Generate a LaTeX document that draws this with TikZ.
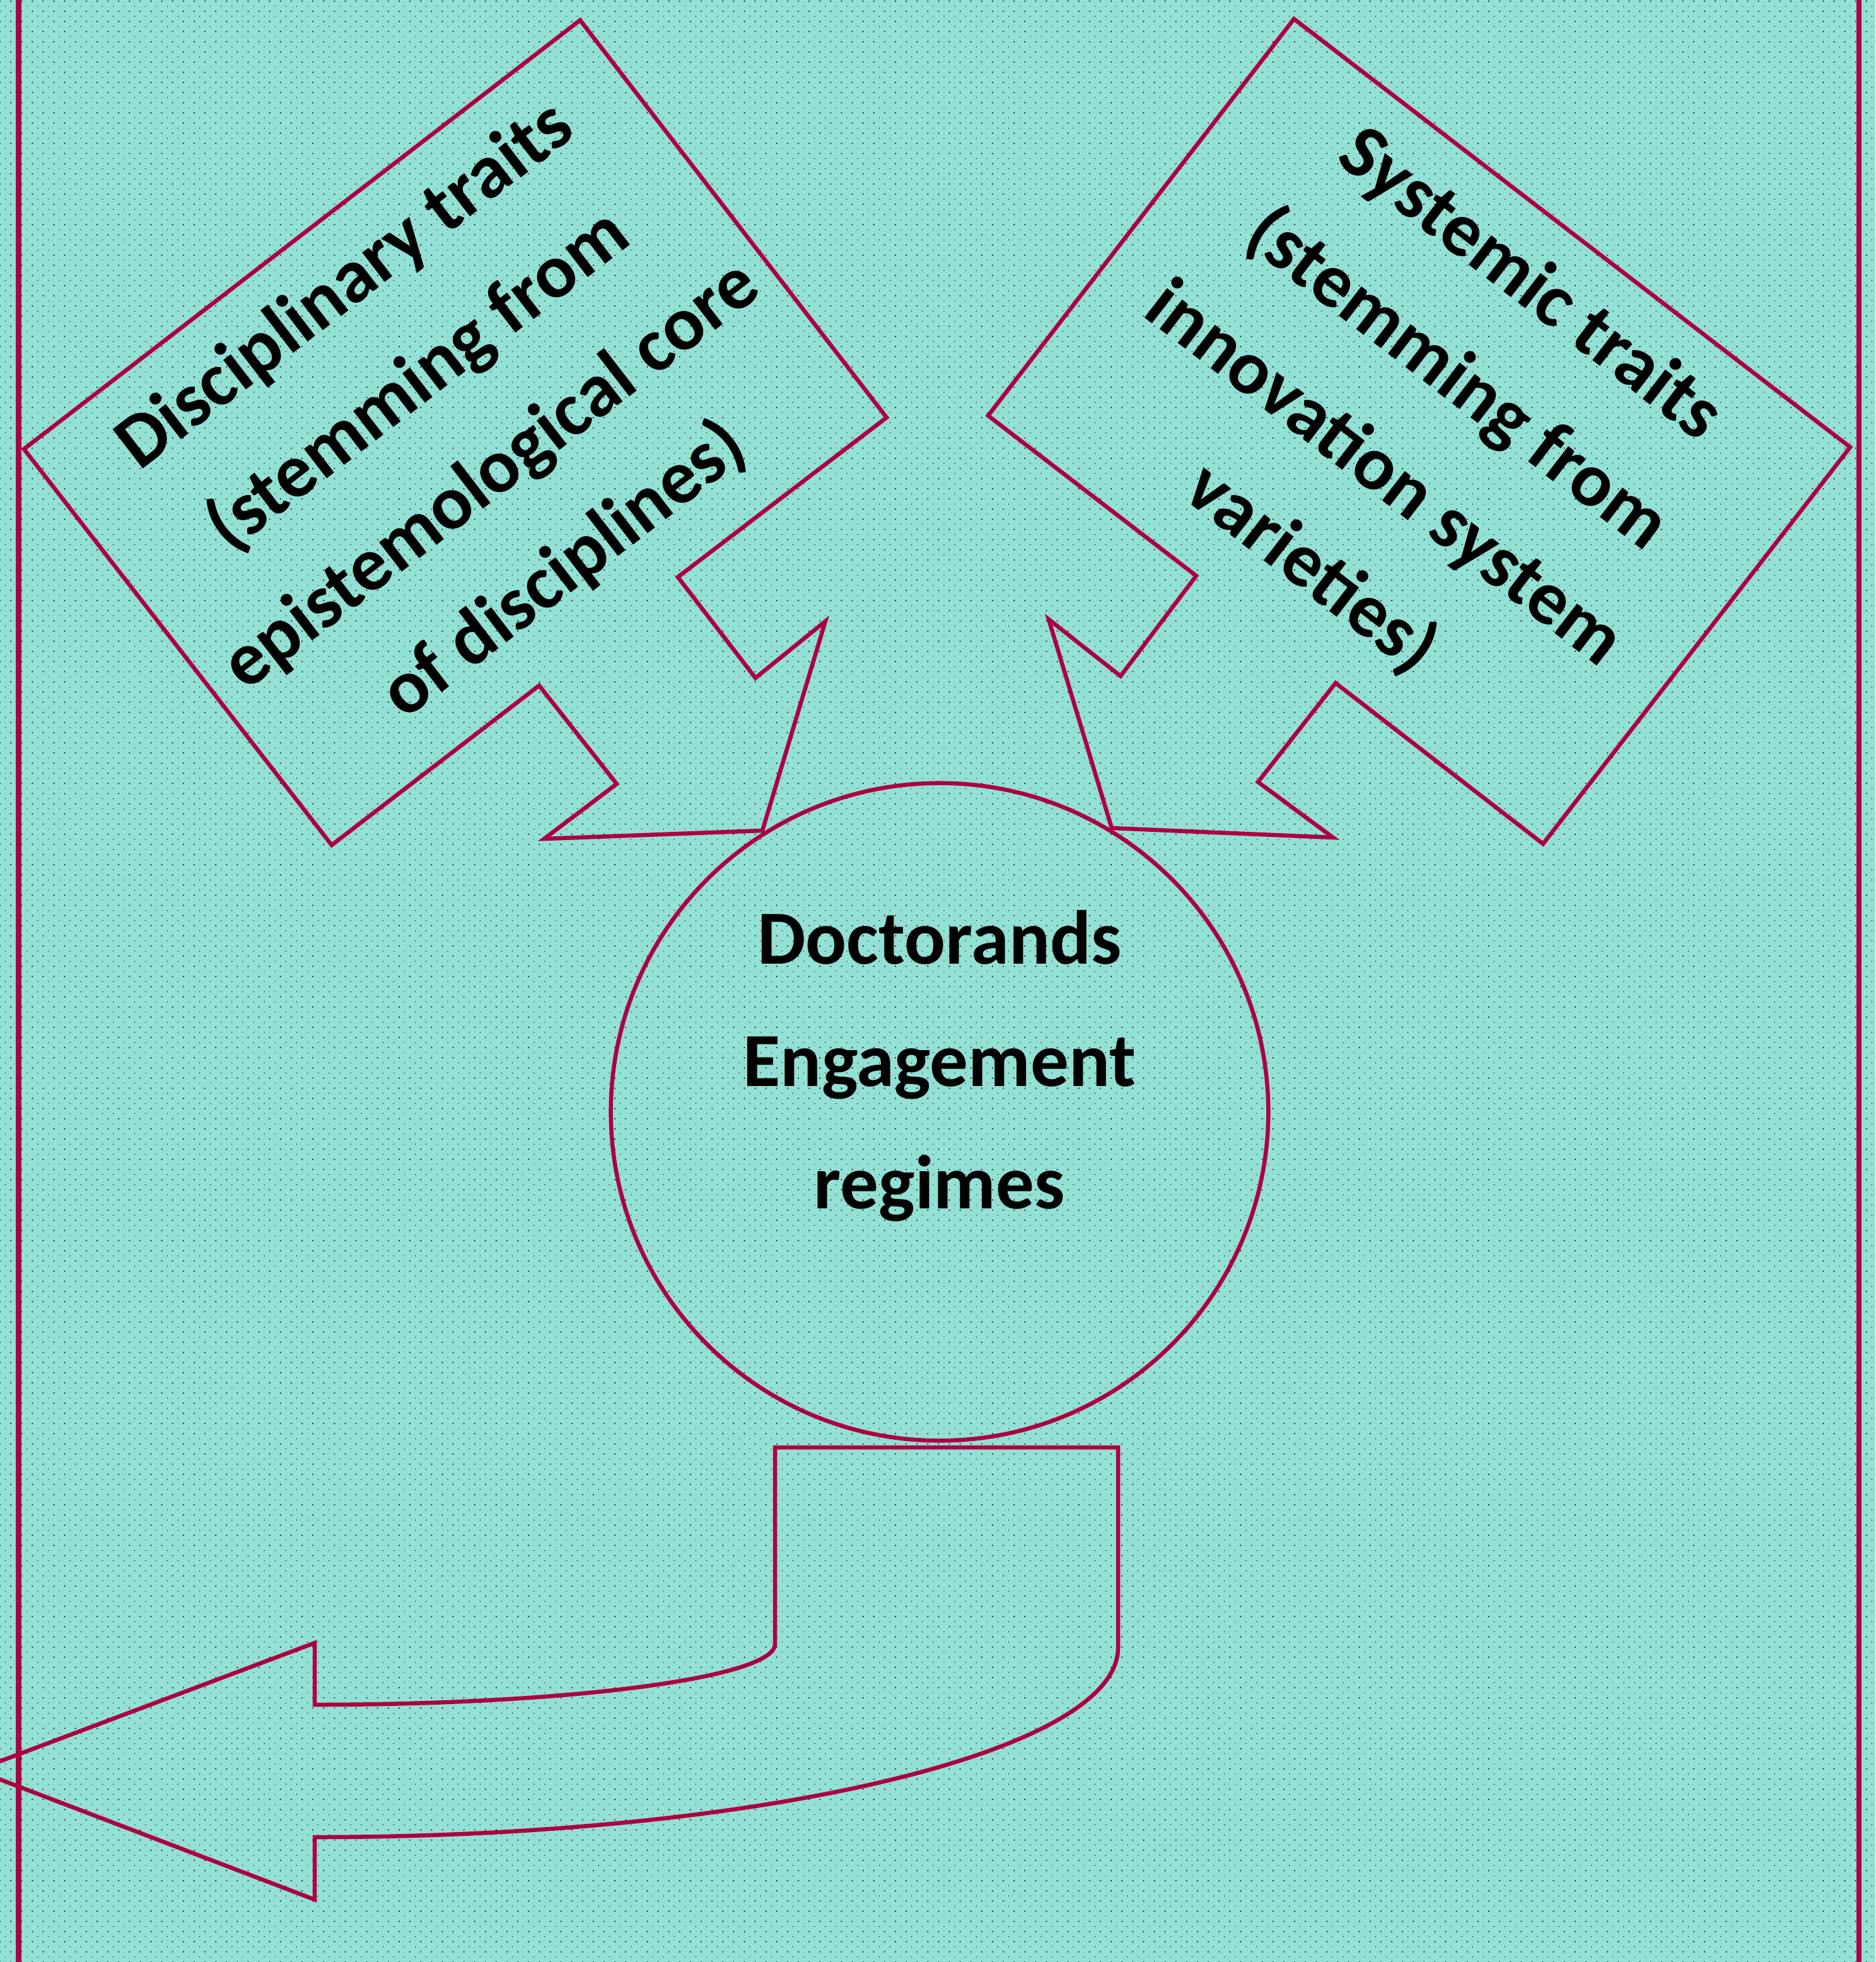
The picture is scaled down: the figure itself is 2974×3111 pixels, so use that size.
\documentclass[tikz,border=0pt]{standalone}
\usepackage{fontspec}
\setmainfont{Carlito}
\usetikzlibrary{patterns}
\definecolor{bgteal}{HTML}{93E0D4}
\definecolor{crimson}{HTML}{AD0042}
\pgfdeclarepatternformonly{bgdots}{\pgfqpoint{-0.5pt}{-0.5pt}}{\pgfqpoint{4.4pt}{4.1pt}}{\pgfqpoint{4.865pt}{4.581pt}}{%
  \pgfpathcircle{\pgfqpoint{0pt}{0pt}}{0.31pt}%
  \pgfpathcircle{\pgfqpoint{2.4325pt}{2.2905pt}}{0.21pt}%
  \pgfusepath{fill}}
\begin{document}
\begin{tikzpicture}[x=0.01cm, y=-0.01cm,
  outline/.style={draw=crimson, line width=1.85pt, line join=miter},
  frameline/.style={draw=crimson, line width=2.3pt},
  lbl/.style={font=\bfseries\fontsize{34.5}{54}\selectfont, align=center, text=black, inner sep=0pt},
  corelbl/.style={font=\bfseries\fontsize{34.5}{55.2}\selectfont, align=center, text=black, inner sep=0pt}]

\useasboundingbox (0,0) rectangle (2974,3111);
\clip (0,0) rectangle (2974,3111);
\fill[bgteal] (0,0) rectangle (2974,3111);
\fill[pattern=bgdots, pattern color=black] (0,0) rectangle (2974,3111);

% frame lines
\draw[frameline] (29.5,0) -- (29.5,3111);
\draw[frameline] (2948,0) -- (2948,3111);

% left callout
\draw[outline] (920,32) -- (1406,662) -- (1075,915) -- (1198,1075) -- (1309,985)
  -- (1209,1317) -- (863,1330) -- (978,1243) -- (855,1087) -- (526,1340) -- (38,712) -- cycle;

% right callout
\draw[outline] (2052,30) -- (2934,709) -- (2447,1338) -- (2118,1083) -- (1995,1240)
  -- (2114,1328) -- (1763,1313) -- (1663,982) -- (1777,1072) -- (1897,913) -- (1567,659) -- cycle;

% central circle
\node[outline, circle, minimum size=10.42cm, inner sep=0pt] (core) at (1490,1763) {};

% bottom curved arrow
\draw[outline] (1229,2295) -- (1773,2295) -- (1773,2613)
  .. controls (1773,2778.7) and (1202.6,2913) .. (499,2913)
  -- (499,3012) -- (-38,2807) -- (499,2605) -- (499,2703)
  .. controls (902.2,2703) and (1229,2660) .. (1229,2607) -- cycle;

% texts
\node[corelbl] (coretext) at (1490,1690) {Doctorands\\Engagement\\regimes};
\node[lbl, rotate=37.6] (lefttext) at (722,680) {Disciplinary traits\\(stemming from\\epistemological core\\of disciplines)};
\node[lbl, rotate=-37.6] (righttext) at (2252,678) {Systemic traits\\(stemming from\\innovation system\\varieties)};
\end{tikzpicture}
\end{document}
